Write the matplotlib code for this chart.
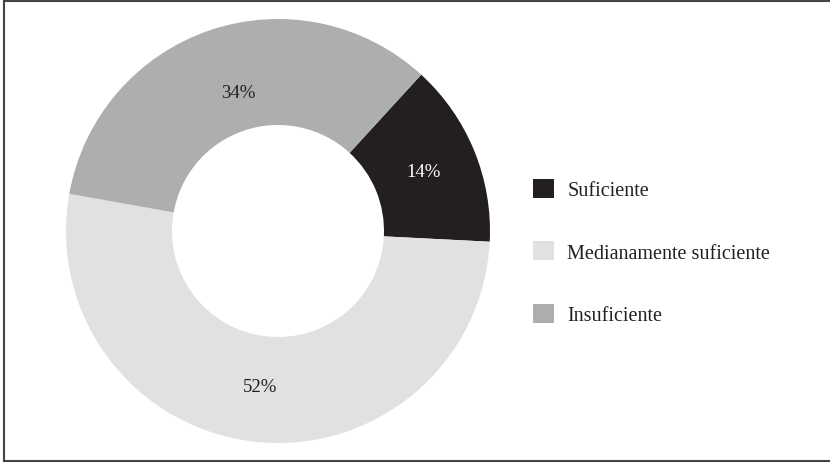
import numpy as np
import matplotlib.pyplot as plt
from matplotlib.lines import Line2D

labels = ['Suficiente', 'Medianamente suficiente', 'Insuficiente']
values = [14, 52, 34]
colors = ['#231f20', '#e1e1e2', '#adaeb0']
pct_colors = ['white', '#231f20', '#231f20']

plt.rcParams['font.family'] = ['Liberation Serif', 'DejaVu Serif']

W, H = 830, 464
fig = plt.figure(figsize=(W / 100, H / 100), dpi=100)

# pie axes: centre (278, 232), radius 212 px
cx, cy, r = 278, 232, 212
ax = fig.add_axes([(cx - r) / W, (H - cy - r) / H, 2 * r / W, 2 * r / H])
wedges, texts, autotexts = ax.pie(
    values, colors=colors, startangle=47.5, counterclock=False,
    radius=1, wedgeprops=dict(width=0.5, edgecolor='none'),
    autopct='%d%%', pctdistance=0.74, textprops=dict(fontsize=13.5))
for t, c in zip(autotexts, pct_colors):
    t.set_color(c)
# the 34% label sits a little nearer the hole in the original
ang = np.deg2rad(106)
autotexts[2].set_position((0.68 * np.cos(ang), 0.68 * np.sin(ang)))
ax.set_xlim(-1, 1)
ax.set_ylim(-1, 1)
ax.set_aspect('equal')
ax.axis('off')

fig.legend(wedges, labels, loc='center left',
           bbox_to_anchor=(515 / W, 1 - 253 / H), frameon=False,
           fontsize=14.5, handlelength=1.05, handleheight=1.05,
           handletextpad=0.65, labelspacing=2.05, labelcolor='#231f20')

# frame around the chart
fig.add_artist(Line2D([4 / W, 4 / W], [1 - 2 / H, 1 - 462 / H], color='#444444', lw=1.5))
fig.add_artist(Line2D([4 / W, 1], [1 - 2 / H, 1 - 2 / H], color='#444444', lw=1.5))
fig.add_artist(Line2D([4 / W, 1], [1 - 462 / H, 1 - 462 / H], color='#444444', lw=1.5))

fig.savefig('out.png', dpi=100)
